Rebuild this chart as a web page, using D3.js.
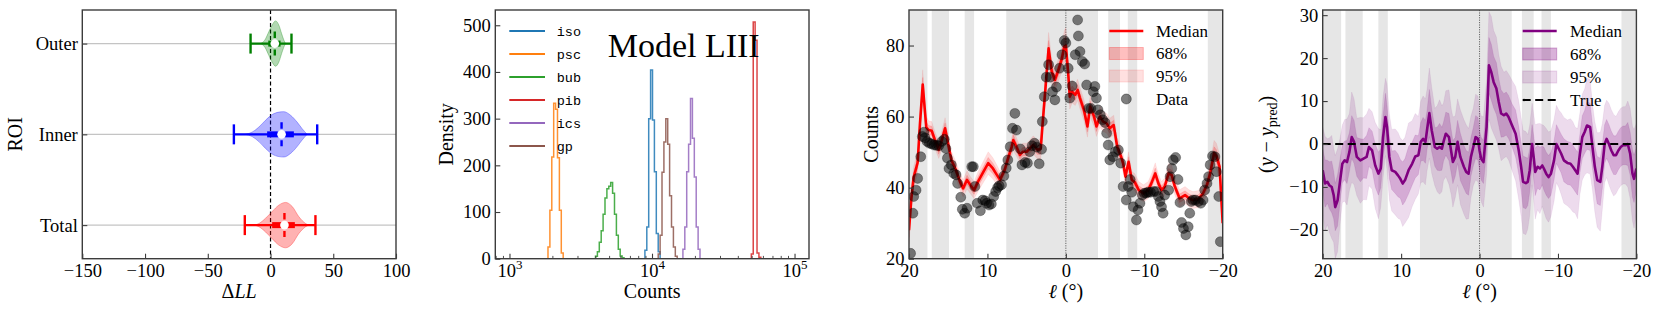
<!DOCTYPE html>
<html>
<head>
<meta charset="utf-8">
<script src="https://cdn.jsdelivr.net/npm/d3@7"></script>
<style>
  body { margin: 0; background: #fff; }
  svg text { font-family: "Liberation Serif", "Times New Roman", serif; fill: #000; }
  svg text.mono { font-family: "Liberation Mono", "DejaVu Sans Mono", monospace; }
</style>
</head>
<body>
<div id="chart"></div>
<script>
// ---------- data ----------

// panel 1: delta log-likelihood per region of interest
var roiNames = ["Total", "Inner", "Outer"];
var roiColors = ["#ff0000", "#0000ff", "#008000"];
var roiWhiskerLo = [-20.5, -29.2, -15.9];
var roiWhiskerHi = [35.8, 37.2, 16.7];
var roiQ1 = [1.3, -2.7, -1.8];
var roiQ3 = [19.4, 18.6, 8.0];
var roiMedian = [11.1, 8.8, 3.4];
// violin outline: dLL sample points and relative half width
var violinX = [
    [-13, -9.3, -4, 1.3, 6.6, 12, 17.3, 22.6, 28, 30.6],
    [-20, -14.6, -9.3, -4, 1.3, 6.6, 10.6, 16, 21.2, 25.2, 29.2],
    [-8, -4.5, -1.3, 1.3, 4, 6.6, 8.8, 10.6, 12]
];
var violinW = [
    [0, 0.07, 0.3, 0.6, 0.88, 1.0, 0.82, 0.37, 0.07, 0],
    [0, 0.1, 0.32, 0.62, 0.87, 0.98, 1.0, 0.84, 0.54, 0.25, 0],
    [0, 0.16, 0.53, 0.82, 1.0, 0.82, 0.45, 0.16, 0]
];

// panel 2: step histograms, log-spaced bins (log10 edge = 3 + k*binStep)
var histLabels = ["iso", "psc", "bub", "pib", "ics", "gp"];
var histColors = ["#1f77b4", "#ff7f0e", "#2ca02c", "#d62728", "#9467bd", "#8c564b"];
var binStep = 2 / 150;
var histFirstBin = [71, 20, 45, 127, 91, 78];
var histHeights = [
    [18, 68, 300, 404, 297, 186, 54, 15],
    [25, 104, 218, 333, 320, 216, 104, 12],
    [5, 15, 35, 60, 95, 130, 150, 155, 163, 140, 95, 50, 20, 6, 2],
    [10, 507, 468, 12, 3],
    [20, 68, 186, 245, 343, 258, 175, 68, 20],
    [10, 50, 185, 250, 300, 245, 135, 68, 25, 5]
];

// panels 3/4: masked longitude ranges (grey)
var maskBands = [[20, 17.65], [17.1, 14.9], [12.9, 11.7], [7.6, -4.1], [-5.4, -6.9], [-7.9, -9.1], [-18.1, -20]];

// panel 3: data counts [l, counts]
var countsData = [
    [19.8,21.5],[19.5,32.8],[19.4,37.5],[19.1,39.3],[18.9,42.6],[18.5,48.7],[18.3,54.4],[18.1,55.6],[17.95,54],[17.7,53],
    [17.4,52.5],[17.1,52.3],[16.8,52],[16.5,51.9],[16.2,51.8],[15.8,53],[15.5,53.6],[15.3,51],[15.1,48.3],[14.9,45.4],
    [14.6,46.4],[14.3,44],[14.0,43.6],[13.8,41.2],[13.4,37.3],[13.2,33.9],[12.9,32.8],[12.6,34.2],[12.0,45.9],[11.8,45.9],
    [11.6,40.3],[11.3,35.6],[10.9,33.5],[10.6,36.5],[10.3,36.3],[10.1,35.6],[9.8,35.1],[9.5,35.4],[9.2,37.5],[8.95,38.9],
    [8.7,40],[8.5,40.5],[8.2,40.8],[7.9,43.3],[7.6,45.5],[7.4,47.8],[7.1,51.5],[6.8,56.7],[6.5,60.9],[6.3,56.2],
    [5.8,50.9],[5.6,46.4],[5.2,47.1],[4.9,46.9],[4.6,50.1],[4.3,51.8],[4.0,52.5],[3.7,51.4],[3.4,46.7],[3.1,50.8],
    [3.0,58.6],[2.75,65.6],[2.5,71.1],[2.2,74.6],[2.0,71.1],[1.7,67],[1.4,64.7],[1.2,68.3],[0.8,73.6],[0.5,77.4],
    [0.2,81.4],[0.0,80.7],[-0.3,73.6],[-0.5,65.2],[-0.8,68.6],[-1.2,77.4],[-1.5,87.2],[-1.6,82.7],[-1.8,78.3],[-2.1,75.5],
    [-2.4,74.8],[-2.65,68.9],[-2.9,62.3],[-3.2,62.3],[-3.5,67],[-3.7,68.5],[-3.9,65.2],[-4.1,61.9],[-4.4,60.5],[-4.7,59.1],
    [-5.0,58.3],[-5.2,55.3],[-5.4,52],[-5.6,47.8],[-6.0,48.7],[-6.3,50.1],[-6.7,50.6],[-7.0,46.9],[-7.3,40.3],[-7.7,36.5],
    [-7.96,40.3],[-8.2,42.3],[-8.4,38.7],[-8.6,34.6],[-9.0,30.9],[-9.2,33.7],[-9.45,35.6],[-9.75,37.9],[-10.0,38.4],[-10.25,38.5],
    [-10.5,38.7],[-10.8,38.7],[-11.2,38.9],[-11.5,38.9],[-11.8,37.5],[-12.0,36.1],[-12.2,34.6],[-12.4,32.8],[-12.6,37.9],[-13.1,39.3],
    [-13.3,43.1],[-13.5,45.4],[-13.7,47.8],[-14.0,48.5],[-14.3,42.3],[-14.55,35.8],[-14.75,30.2],[-15.0,28.5],[-15.3,26.7],[-15.6,29],
    [-15.8,32.8],[-16.0,36.1],[-16.2,36.5],[-16.5,36.5],[-16.9,36.1],[-17.2,35.6],[-17.5,36.5],[-17.7,39.3],[-18.0,41.2],[-18.2,43.1],
    [-18.4,46.4],[-18.7,48.9],[-19.0,48.7],[-19.2,44.5],[-19.5,37.5],[-19.7,24.8]
];

// panel 3: model median [l, counts, half 68%, half 95%]
var countsMedian = [
    [20,28,2,4],[19.7,37,1.8,3.5],[19.4,43,1.5,3],[18.9,47,1.5,3],[18.6,58,1.8,3.5],[18.25,69,2,4.2],[17.8,57,1.5,3],[17.5,56.2,1.3,2.6],
    [17.1,56,1.3,2.6],[16.7,53.4,1.2,2.4],[16.2,50.6,1.2,2.4],[15.8,53.5,1.3,2.6],[15.4,56.7,1.5,3],[15.1,53.4,1.3,2.6],[14.6,47.8,1.2,2.4],
    [14.1,45.4,1.2,2.4],[13.5,41.7,1.2,2.4],[13.1,39.8,1.2,2.4],[12.6,42.2,1.3,2.6],[12.2,40.8,1.2,2.4],[11.7,39.3,1.2,2.4],[11.2,41.7,1.4,2.8],
    [10.5,44.5,1.5,3],[9.9,46.9,1.6,3.2],[9.3,45.4,1.5,3],[8.8,43.6,1.4,2.8],[8.4,42.2,1.2,2.4],[7.8,45,1.2,2.4],[7.3,48.7,1.3,2.6],
    [6.9,51.5,1.3,2.6],[6.7,53.4,1.5,3],[6.3,51.5,1.3,2.6],[5.85,49.2,1.2,2.4],[5.5,50.1,1.2,2.4],[5.0,50.1,1.2,2.4],[4.6,51,1.2,2.4],
    [4.15,52,1.3,2.6],[3.6,50.6,1.3,2.6],[3.2,51,1.5,3],[3.0,57,1.8,3.5],[2.65,66.6,2,4],[2.2,79.2,2.2,4.5],[1.8,72.7,1.8,3.5],
    [1.4,70.3,1.6,3.2],[0.95,73.1,1.6,3.2],[0.5,76.4,1.8,3.6],[0.2,79.7,2.2,4.5],[0,80,2.4,5],[-0.3,72.2,2,4],[-0.5,65.6,1.8,3.5],
    [-0.8,67,1.6,3.2],[-1.2,66.1,1.5,3],[-1.5,67.5,1.5,3],[-1.8,65.2,1.5,3],[-2.3,61.9,1.5,3],[-2.75,57.2,1.5,3],[-3.1,62.8,1.5,3],
    [-3.6,60,1.4,2.8],[-3.9,57.2,1.4,2.8],[-4.35,60,1.5,3],[-4.75,58.6,1.4,2.8],[-5.2,58.1,1.4,2.8],[-5.6,56.7,1.4,2.8],[-6.1,57.6,1.4,2.8],
    [-6.55,51.5,1.3,2.6],[-7.0,49,1.3,2.6],[-7.3,46.9,1.3,2.6],[-7.6,43.1,1.2,2.4],[-8.0,47.3,1.4,2.8],[-8.4,42.2,1.2,2.4],[-8.8,41.5,1.2,2.4],
    [-9.3,39.3,1.2,2.4],[-9.9,38.4,1.2,2.4],[-10.5,39.3,1.2,2.4],[-10.9,41.2,1.3,2.6],[-11.4,44,1.5,3],[-11.8,41.2,1.3,2.6],[-12.2,39.3,1.2,2.4],
    [-12.6,40.3,1.2,2.4],[-13.1,44,1.4,2.8],[-13.5,43.5,1.4,2.8],[-13.9,40.3,1.2,2.4],[-14.5,37,1.2,2.4],[-15.2,37.9,1.2,2.4],[-15.7,37,1.2,2.4],
    [-16.2,36.5,1.2,2.4],[-16.9,36.8,1.2,2.4],[-17.5,38.4,1.3,2.6],[-18,40.8,1.4,2.8],[-18.4,44,1.5,3],[-18.9,49.7,1.8,3.6],[-19.2,48.9,1.8,3.6],
    [-19.6,45.9,1.8,3.5],[-20,30,2,4]
];

// panel 4: residual median [l, y - y_pred, half 68%, half 95%]
var residMedian = [
    [20,-6.1,5,10],[19.7,-9.2,5.5,11],[19.4,-8.8,5,10],[19.15,-9.6,5.5,11],[18.85,-10,6,12],[18.6,-11.9,5.5,11],[18.4,-14.7,5.5,12],
    [18.1,-13.1,6,12],[17.8,-8.8,5,10],[17.5,-4.6,4.5,9],[17.2,-3.8,4.5,9.5],[16.9,-4.2,5,10],[16.6,-1.9,4.5,9],[16.3,1.6,5,10.5],
    [16.0,0.5,5,10],[15.65,-3.0,4.5,9],[15.2,-3.8,5,10],[14.8,-3.4,4.5,9.5],[14.4,-3.0,5,10],[14.1,-0.7,4.5,9],[13.7,-1.5,4.5,9],
    [13.3,-5.0,5,10],[12.9,-6.9,5,10.5],[12.6,-5.7,4.5,9],[12.3,1.6,5,9.5],[12.0,6.3,5.5,9],[11.8,4.0,5,10],[11.5,-3.0,5,10],
    [11.2,-6.1,4.5,9.5],[10.75,-6.5,5,10],[10.4,-7.3,5,10],[10.1,-8.1,4.5,9.5],[9.8,-9.2,5,10],[9.5,-8.4,5,10],[9.05,-6.1,5.5,11],
    [8.6,-4.6,5,10],[8.2,-2.9,5,10],[7.8,-2.6,4.5,9],[7.5,0.5,4.5,9.5],[7.2,1.2,5,10],[6.9,0.5,5,10],[6.7,3.2,4.5,9.5],
    [6.4,7.2,5.5,10.5],[6.1,3.2,5,10],[5.7,-0.7,4.5,9],[5.4,-1.1,5,10],[5.1,-0.7,5.5,11],[4.8,-1.1,5,10],[4.6,0.5,4.5,9],
    [4.3,2.4,5,10],[3.9,1.6,5.5,11],[3.6,-1.9,5,10],[3.4,-4.2,5,10.5],[3.1,-3.0,4.5,9.5],[2.8,0.5,5,10],[2.45,-3.0,5.5,11],
    [2.0,-5.3,5,11],[1.7,-6.5,5,11],[1.4,-6.9,5,10.5],[1.1,-3.0,4.5,9.5],[0.8,-0.7,4.5,9],[0.5,1.6,5,10],[0.2,1.2,5,10],
    [0,-1.5,4.5,9.5],[-0.2,-3.4,5,10],[-0.5,-4.2,5,10.5],[-0.9,4,5.5,11],[-1.2,18.3,6.5,12.5],[-1.5,16.7,6.5,13],[-1.8,14.4,6,12],
    [-2.15,12.9,6,12],[-2.45,9.8,5.5,11],[-2.75,7.1,5.5,11],[-3.1,6.7,5,10],[-3.4,7.1,5,10],[-3.7,6.3,5,10],[-4.15,4.3,5,10.5],
    [-4.6,2.4,5.5,11],[-5.0,-1.5,5.5,11.5],[-5.3,-5.3,5.5,11.5],[-5.55,-8.8,6,12],[-5.9,-9.1,6,12],[-6.15,-8.8,5.5,11],[-6.4,-6.1,5,10.5],
    [-6.7,0,4.5,9.5],[-6.9,-3.0,5,10],[-7.1,-6.5,5.5,11],[-7.4,-5.3,5,10],[-7.7,-5.7,5,10.5],[-8.0,-5.0,4.5,9.5],[-8.2,-5.7,5,10],
    [-8.5,-6.9,5,10.5],[-8.8,-7.7,5,10.5],[-9.1,-6.9,5,10],[-9.5,-3.8,4.5,9.5],[-9.8,0,4.5,9],[-10.1,-1.1,4.5,9],[-10.4,-2.2,4.5,9.5],
    [-10.75,-3.8,5,10],[-11.2,-4.4,5,10],[-11.6,-4.6,5,10.5],[-11.9,-5.3,5,10.5],[-12.2,-6.1,5,10],[-12.5,-6.9,5,10.5],[-12.8,-2.2,4.5,9.5],
    [-13.1,1.6,5,10],[-13.4,2.8,5,10],[-13.7,4.3,5.5,11],[-14.1,4.0,5.5,11],[-14.4,-0.7,5,10],[-14.7,-5.3,5,10.5],[-15.0,-8.4,5.5,11],
    [-15.4,-8.8,5.5,11.5],[-15.65,-5.3,5,10],[-15.95,0,4.5,9],[-16.2,1.2,4.5,9],[-16.5,0,4.5,9.5],[-16.8,-1.5,4.5,9.5],[-17.1,-2.6,4.5,9.5],
    [-17.4,-2.6,4.5,9],[-17.7,-1.5,4.5,9],[-18.0,-0.7,4.5,9],[-18.3,-0.3,4.5,9],[-18.6,-0.3,4.5,9],[-18.9,0,5,10],[-19.2,-2.2,5,10.5],
    [-19.5,-6.9,5.5,11],[-19.7,-8.1,5.5,11.5],[-20,-5.7,5,10.5]
];

// ---------- layout ----------
var W = 1661, H = 314;
var T = 10, B = 258.7, PW = 313.7;
var lefts = [82.3, 495.3, 909, 1322.7];
var frameColor = "#3c3c3c";
var serif = '"Liberation Serif", "Times New Roman", serif';
var tickFont = 18.5, labelFont = 20, legendFont = 17;

var svg = d3.select("#chart").append("svg")
    .attr("width", W).attr("height", H);
svg.append("rect").attr("width", W).attr("height", H).attr("fill", "#fff");

function clipFor(i) {
    var id = "clip" + i;
    svg.append("clipPath").attr("id", id).append("rect")
        .attr("x", lefts[i]).attr("y", T).attr("width", PW).attr("height", B - T);
    return "url(#" + id + ")";
}

function frame(i) {
    svg.append("rect")
        .attr("x", lefts[i]).attr("y", T).attr("width", PW).attr("height", B - T)
        .attr("fill", "none").attr("stroke", frameColor).attr("stroke-width", 1.4);
}

function styleAxis(g) {
    g.select(".domain").remove();
    g.attr("font-size", tickFont).attr("font-family", serif).attr("color", frameColor);
    g.selectAll(".tick text").style("font-family", serif).attr("fill", "#000");
    g.selectAll(".tick line").attr("stroke-width", 1.1);
}

function bottomAxis(x, ticks) {
    svg.append("g").attr("transform", "translate(0," + B + ")")
        .call(d3.axisBottom(x).tickValues(ticks).tickSizeInner(-5).tickSizeOuter(0).tickPadding(5))
        .call(styleAxis);
}

function leftAxis(i, y, ticks, fmt) {
    var ax = d3.axisLeft(y).tickValues(ticks).tickSizeInner(-5).tickSizeOuter(0).tickPadding(4.5);
    if (fmt) ax.tickFormat(fmt);
    svg.append("g").attr("transform", "translate(" + lefts[i] + ",0)")
        .call(ax).call(styleAxis);
}

function xLabel(i, build) {
    var t = svg.append("text")
        .attr("x", lefts[i] + PW / 2).attr("y", 297.5)
        .attr("text-anchor", "middle").attr("font-size", labelFont);
    build(t);
}

function yLabel(x, build) {
    var t = svg.append("text")
        .attr("transform", "translate(" + x + "," + ((T + B) / 2) + ") rotate(-90)")
        .attr("text-anchor", "middle").attr("font-size", labelFont);
    build(t);
}

// ---------- panel 1: violins ----------
var x1 = d3.scaleLinear().domain([-150, 100]).range([lefts[0], lefts[0] + PW]);
var y1 = d3.scaleLinear().domain([-0.37, 2.37]).range([B, T]);
var violinHalf = 0.25;

roiNames.forEach(function(name, i) {
    svg.append("line")
        .attr("x1", lefts[0]).attr("x2", lefts[0] + PW)
        .attr("y1", y1(i)).attr("y2", y1(i))
        .attr("stroke", "#c4c4c4").attr("stroke-width", 1.3);
});

svg.append("line")
    .attr("x1", x1(0)).attr("x2", x1(0)).attr("y1", T).attr("y2", B)
    .attr("stroke", "#000").attr("stroke-width", 1.2).attr("stroke-dasharray", "4,2.5");

roiNames.forEach(function(name, i) {
    var col = roiColors[i];
    var pts = violinX[i].map(function(v, j) { return [v, violinW[i][j]]; });
    var area = d3.area()
        .x(function(d) { return x1(d[0]); })
        .y0(function(d) { return y1(i - d[1] * violinHalf); })
        .y1(function(d) { return y1(i + d[1] * violinHalf); })
        .curve(d3.curveMonotoneX);
    svg.append("path").attr("d", area(pts))
        .attr("fill", col).attr("fill-opacity", 0.3)
        .attr("stroke", col).attr("stroke-opacity", 0.3).attr("stroke-width", 1);

    var cy = y1(i);
    // whisker line
    svg.append("line")
        .attr("x1", x1(roiWhiskerLo[i])).attr("x2", x1(roiWhiskerHi[i]))
        .attr("y1", cy).attr("y2", cy)
        .attr("stroke", col).attr("stroke-width", 2.2);
    // caps
    [roiWhiskerLo[i], roiWhiskerHi[i]].forEach(function(v) {
        svg.append("line")
            .attr("x1", x1(v)).attr("x2", x1(v))
            .attr("y1", cy - 10).attr("y2", cy + 10)
            .attr("stroke", col).attr("stroke-width", 2.4);
    });
    // interquartile box
    svg.append("line")
        .attr("x1", x1(roiQ1[i])).attr("x2", x1(roiQ3[i]))
        .attr("y1", cy).attr("y2", cy)
        .attr("stroke", col).attr("stroke-width", 6);
    // median marker: dashed tick through a white dot
    svg.append("line")
        .attr("x1", x1(roiMedian[i])).attr("x2", x1(roiMedian[i]))
        .attr("y1", cy - 12).attr("y2", cy + 12)
        .attr("stroke", col).attr("stroke-width", 2.4).attr("stroke-dasharray", "6.5,2.5");
    svg.append("circle")
        .attr("cx", x1(roiMedian[i])).attr("cy", cy).attr("r", 4.3)
        .attr("fill", "#fff");
});

frame(0);
bottomAxis(x1, [-150, -100, -50, 0, 50, 100]);
leftAxis(0, y1, [0, 1, 2], function(d) { return roiNames[d]; });
xLabel(0, function(t) {
    t.append("tspan").text("Δ");
    t.append("tspan").attr("font-style", "italic").text("LL");
});
yLabel(21.7, function(t) { t.text("ROI"); });

// ---------- panel 2: histograms ----------
var x2 = d3.scaleLog().domain([Math.pow(10, 2.897), Math.pow(10, 5.098)]).range([lefts[1], lefts[1] + PW]);
var y2 = d3.scaleLinear().domain([0, 532.7]).range([B, T]);
var clip2 = clipFor(1);

histLabels.forEach(function(lab, i) {
    var k0 = histFirstBin[i];
    var edge = function(k) { return Math.pow(10, 3 + k * binStep); };
    var p = d3.path();
    p.moveTo(x2(edge(k0)), y2(0));
    histHeights[i].forEach(function(h, j) {
        p.lineTo(x2(edge(k0 + j)), y2(h));
        p.lineTo(x2(edge(k0 + j + 1)), y2(h));
    });
    p.lineTo(x2(edge(k0 + histHeights[i].length)), y2(0));
    svg.append("path").attr("d", p.toString())
        .attr("clip-path", clip2)
        .attr("fill", "none").attr("stroke", histColors[i])
        .attr("stroke-opacity", 0.85).attr("stroke-width", 1.5);
});

frame(1);
// log x axis: majors with superscript labels, minors inside
var majors = [1e3, 1e4, 1e5];
var minors = [];
[1e2, 1e3, 1e4].forEach(function(dec) {
    for (var m = 2; m <= 9; m++) {
        var v = m * dec;
        if (v >= x2.domain()[0] && v <= x2.domain()[1]) minors.push(v);
    }
});
majors.forEach(function(v) {
    svg.append("line").attr("x1", x2(v)).attr("x2", x2(v))
        .attr("y1", B).attr("y2", B - 5)
        .attr("stroke", frameColor).attr("stroke-width", 1.1);
    var t = svg.append("text").attr("x", x2(v)).attr("y", 277)
        .attr("text-anchor", "middle").attr("font-size", tickFont);
    t.append("tspan").text("10");
    t.append("tspan").attr("font-size", 13).attr("dy", -8).text(Math.round(Math.log10(v)));
});
minors.forEach(function(v) {
    svg.append("line").attr("x1", x2(v)).attr("x2", x2(v))
        .attr("y1", B).attr("y2", B - 2.8)
        .attr("stroke", frameColor).attr("stroke-width", 0.9);
});
leftAxis(1, y2, [0, 100, 200, 300, 400, 500]);
xLabel(1, function(t) { t.text("Counts"); });
yLabel(453, function(t) { t.text("Density"); });

// legend
var leg2Y = d3.scaleLinear().domain([0, 1]).range([31, 54]);
histLabels.forEach(function(lab, i) {
    svg.append("line")
        .attr("x1", 509.3).attr("x2", 545).attr("y1", leg2Y(i)).attr("y2", leg2Y(i))
        .attr("stroke", histColors[i]).attr("stroke-width", 2.2);
    svg.append("text").attr("class", "mono")
        .attr("x", 556.7).attr("y", leg2Y(i) + 4.5)
        .attr("font-size", 13.5).text(lab);
});
svg.append("text").attr("x", 607.7).attr("y", 56.7)
    .attr("font-size", 34).text("Model LIII");

// ---------- panels 3 and 4 shared pieces ----------
function lonScale(i) {
    return d3.scaleLinear().domain([20, -20]).range([lefts[i], lefts[i] + PW]);
}
function drawMasks(x) {
    maskBands.forEach(function(b) {
        svg.append("rect")
            .attr("x", x(b[0])).attr("width", x(b[1]) - x(b[0]))
            .attr("y", T).attr("height", B - T)
            .attr("fill", "#e6e6e6");
    });
    svg.append("line").attr("x1", x(0)).attr("x2", x(0)).attr("y1", T).attr("y2", B)
        .attr("stroke", "#444").attr("stroke-width", 0.8).attr("stroke-dasharray", "1.2,1.2");
}
function drawBand(x, y, rows, col, idx, alpha, clip) {
    var a = d3.area()
        .x(function(d) { return x(d[0]); })
        .y0(function(d) { return y(d[1] - d[idx]); })
        .y1(function(d) { return y(d[1] + d[idx]); });
    svg.append("path").attr("d", a(rows)).attr("clip-path", clip)
        .attr("fill", col).attr("fill-opacity", alpha)
        .attr("stroke", col).attr("stroke-opacity", alpha * 0.6).attr("stroke-width", 0.8);
}
function legendEntries(x0, xText, rows, col, a68, a95, last) {
    svg.append("line").attr("x1", x0).attr("x2", x0 + 34)
        .attr("y1", rows[0]).attr("y2", rows[0])
        .attr("stroke", col).attr("stroke-width", 2.6);
    [[rows[1], a68], [rows[2], a95]].forEach(function(r) {
        svg.append("rect").attr("x", x0).attr("y", r[0] - 6).attr("width", 34).attr("height", 12)
            .attr("fill", col).attr("fill-opacity", r[1])
            .attr("stroke", col).attr("stroke-opacity", r[1]).attr("stroke-width", 1);
    });
    last(rows[3]);
    ["Median", "68%", "95%"].forEach(function(s, i) {
        svg.append("text").attr("x", xText).attr("y", rows[i] + 5.5)
            .attr("font-size", legendFont).text(s);
    });
}

// ---------- panel 3: counts ----------
var x3 = lonScale(2);
var y3 = d3.scaleLinear().domain([20, 90]).range([B, T]);
var clip3 = clipFor(2);
drawMasks(x3);
drawBand(x3, y3, countsMedian, "#ff0000", 3, 0.13, clip3);
drawBand(x3, y3, countsMedian, "#ff0000", 2, 0.22, clip3);
svg.append("path")
    .attr("d", d3.line().x(function(d) { return x3(d[0]); }).y(function(d) { return y3(d[1]); })(countsMedian))
    .attr("clip-path", clip3)
    .attr("fill", "none").attr("stroke", "#ff0000").attr("stroke-width", 2.6)
    .attr("stroke-linejoin", "round");
svg.append("g").attr("clip-path", clip3).selectAll("circle")
    .data(countsData).enter().append("circle")
    .attr("cx", function(d) { return x3(d[0]); })
    .attr("cy", function(d) { return y3(d[1]); })
    .attr("r", 5)
    .attr("fill", "#000").attr("fill-opacity", 0.5)
    .attr("stroke", "#000").attr("stroke-opacity", 0.35).attr("stroke-width", 0.8);
frame(2);
bottomAxis(x3, [20, 10, 0, -10, -20]);
leftAxis(2, y3, [20, 40, 60, 80]);
xLabel(2, function(t) {
    t.append("tspan").attr("font-style", "italic").text("ℓ");
    t.append("tspan").text(" (°)");
});
yLabel(878, function(t) { t.text("Counts"); });
legendEntries(1109.3, 1156, [31, 53.5, 76, 99], "#ff0000", 0.25, 0.12, function(ry) {
    svg.append("circle").attr("cx", 1126.3).attr("cy", ry).attr("r", 5)
        .attr("fill", "#000").attr("fill-opacity", 0.5)
        .attr("stroke", "#000").attr("stroke-opacity", 0.35);
    svg.append("text").attr("x", 1156).attr("y", ry + 5.5)
        .attr("font-size", legendFont).text("Data");
});

// ---------- panel 4: residuals ----------
var x4 = lonScale(3);
var y4 = d3.scaleLinear().domain([-26.7, 31.2]).range([B, T]);
var clip4 = clipFor(3);
var purple = "#800080";
drawMasks(x4);
drawBand(x4, y4, residMedian, purple, 3, 0.14, clip4);
drawBand(x4, y4, residMedian, purple, 2, 0.22, clip4);
svg.append("path")
    .attr("d", d3.line().x(function(d) { return x4(d[0]); }).y(function(d) { return y4(d[1]); })(residMedian))
    .attr("clip-path", clip4)
    .attr("fill", "none").attr("stroke", purple).attr("stroke-width", 2.6)
    .attr("stroke-linejoin", "round");
svg.append("line")
    .attr("x1", lefts[3]).attr("x2", lefts[3] + PW).attr("y1", y4(0)).attr("y2", y4(0))
    .attr("stroke", "#000").attr("stroke-width", 2.2).attr("stroke-dasharray", "8,4.5");
frame(3);
bottomAxis(x4, [20, 10, 0, -10, -20]);
leftAxis(3, y4, [-20, -10, 0, 10, 20, 30]);
xLabel(3, function(t) {
    t.append("tspan").attr("font-style", "italic").text("ℓ");
    t.append("tspan").text(" (°)");
});
yLabel(1273, function(t) {
    t.append("tspan").text("(");
    t.append("tspan").attr("font-style", "italic").text("y");
    t.append("tspan").text(" − ");
    t.append("tspan").attr("font-style", "italic").text("y");
    t.append("tspan").attr("font-size", 14).attr("dy", 4).text("pred");
    t.append("tspan").attr("dy", -4).text(")");
});
legendEntries(1522.7, 1570, [31, 54, 77, 100], purple, 0.3, 0.14, function(ry) {
    svg.append("line").attr("x1", 1522.7).attr("x2", 1556.7).attr("y1", ry).attr("y2", ry)
        .attr("stroke", "#000").attr("stroke-width", 2.2).attr("stroke-dasharray", "8,4.5");
    svg.append("text").attr("x", 1570).attr("y", ry + 5.5)
        .attr("font-size", legendFont).text("True");
});
</script>
</body>
</html>
